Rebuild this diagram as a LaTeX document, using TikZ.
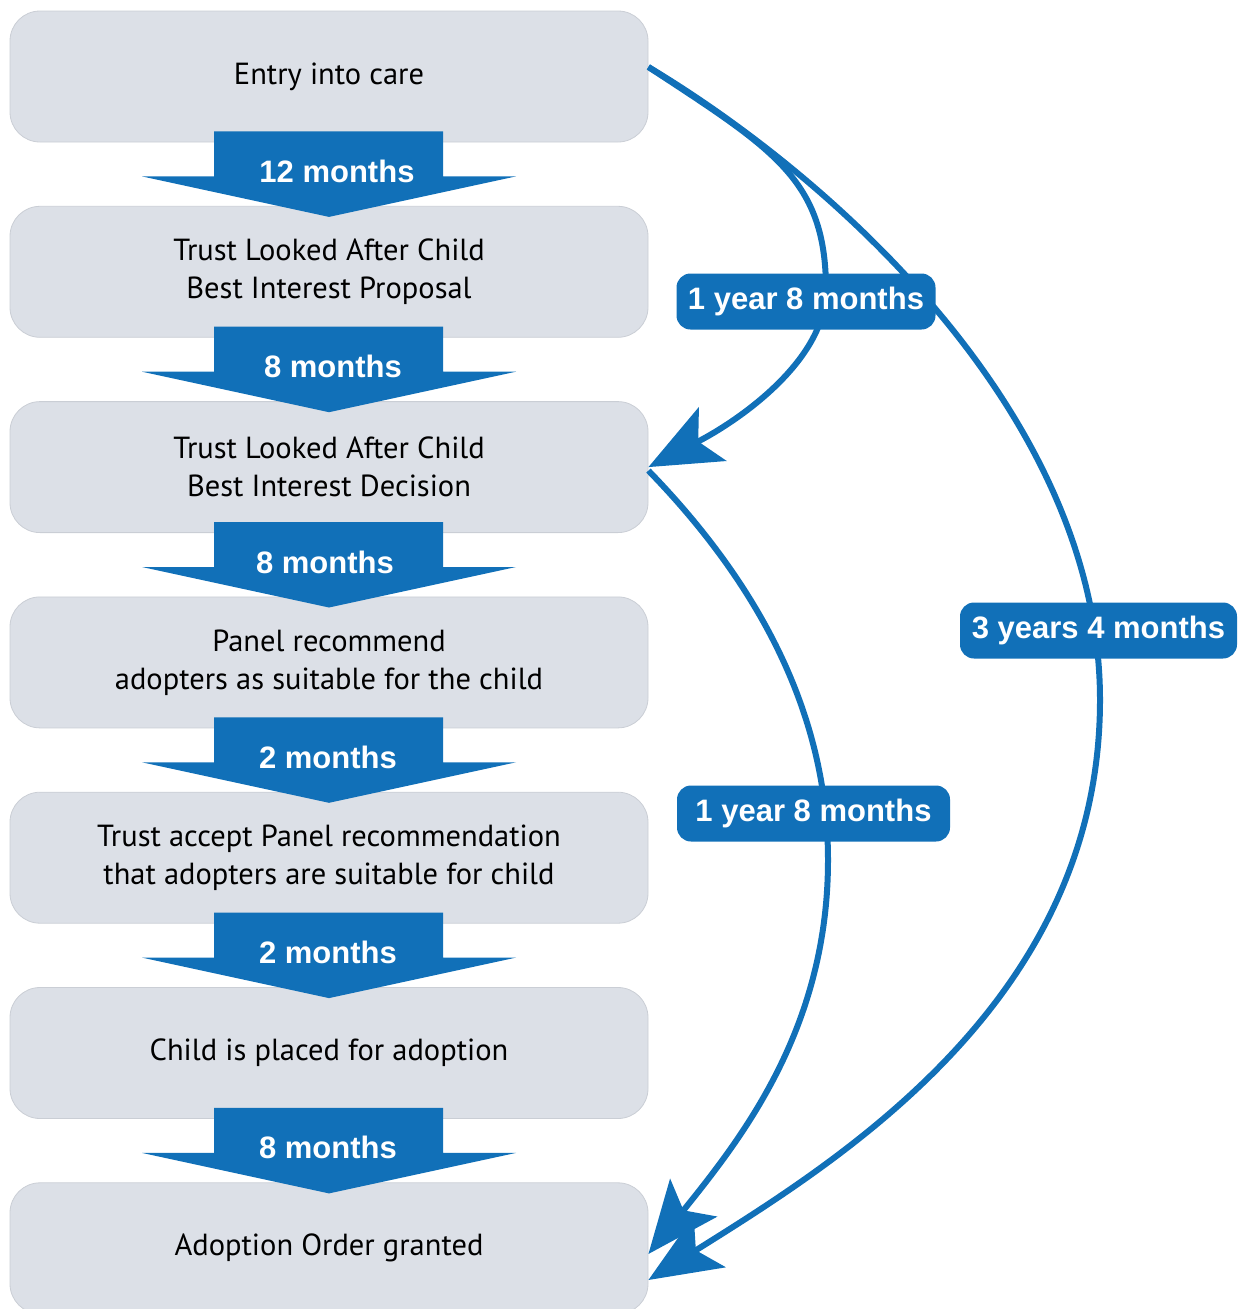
\documentclass[tikz,border=0pt]{standalone}
\usepackage{fontspec}
\setmainfont{PT Sans}
\newfontfamily\labfont{Liberation Sans}
\usetikzlibrary{arrows.meta,calc}
\definecolor{boxfill}{HTML}{DCE0E7}
\definecolor{boxline}{HTML}{CACED5}
\definecolor{myblue}{HTML}{1170B8}
\begin{document}
\begin{tikzpicture}[x=1pt,y=-1pt,
  stage/.style={draw=boxline, line width=0.8pt, fill=boxfill, rounded corners=30pt,
    minimum width=638pt, minimum height=131pt, align=center, inner sep=0pt,
    font=\fontsize{30.5}{38}\selectfont, execute at begin node={\vspace*{4pt}}},
  flow/.style={fill=myblue, draw=none},
  flowlabel/.style={text=white, anchor=base, inner sep=0pt,
    font=\labfont\bfseries\fontsize{31}{36}\selectfont},
  tag/.style={fill=myblue, text=white, rounded corners=14pt, minimum height=56pt,
    inner sep=0pt, text height=22pt, text depth=6.5pt,
    font=\labfont\bfseries\fontsize{31}{36}\selectfont},
  link/.style={draw=myblue, line width=6pt,
    -{Stealth[length=72pt,width=60pt,inset=16pt]}}]
\useasboundingbox (0,0) rectangle (1243,1309);

% stages
\node[stage] (b1) at (329,76.5)  {Entry into care};
\node[stage] (b2) at (329,271.8) {Trust Looked After Child\\Best Interest Proposal};
\node[stage] (b3) at (329,467.1) {Trust Looked After Child\\Best Interest Decision};
\node[stage] (b4) at (329,662.4) {Panel recommend\\adopters as suitable for the child};
\node[stage] (b5) at (329,857.7) {Trust accept Panel recommendation\\that adopters are suitable for child};
\node[stage] (b6) at (329,1053)  {Child is placed for adoption};
\node[stage] (b7) at (329,1248.3){Adoption Order granted};

% block arrows between stages
\foreach \a/\b/\t/\dx in {b1/b2/12 months/8, b2/b3/8 months/4, b3/b4/8 months/-4,
                          b4/b5/2 months/-1, b5/b6/2 months/-1, b6/b7/8 months/-1}{
  \fill[flow] ($(\a.south)+(-115,-11)$) -- ($(\a.south)+(114,-11)$)
     -- ($(\a.south)+(114,34)$) -- ($(\a.south)+(187,34)$)
     -- ($(\b.north)+(0,11)$)
     -- ($(\a.south)+(-187,34)$) -- ($(\a.south)+(-115,34)$) -- cycle;
  \node[flowlabel] at ($(\a.south)+(\dx,40)$) {\t};
}

% long connectors
\coordinate (s1) at ([yshift=9.5pt]b1.east);
\draw[link] (s1) .. controls (840,182) and (1100,420) .. (1100,700)
   .. controls (1100,1000) and (840,1160) .. ([yshift=-31.7pt]b7.east);
\draw[link] (s1) .. controls (775,150) and (826,180) .. (826,290)
   .. controls (826,360) and (740,420) .. (b3.east);
\draw[link] ([yshift=-3.5pt]b3.east) .. controls (745,570) and (828,700) .. (828,860)
   .. controls (828,1030) and (740,1140) .. ([yshift=-5.7pt]b7.east);

% duration tags
\node[tag, minimum width=259pt] (l1) at (806,301.5)  {1 year 8 months};
\node[tag, minimum width=273pt] (l2) at (813.5,813.5) {1 year 8 months};
\node[tag, minimum width=277pt] (l3) at (1098.5,630.5) {3 years 4 months};
\end{tikzpicture}
\end{document}
